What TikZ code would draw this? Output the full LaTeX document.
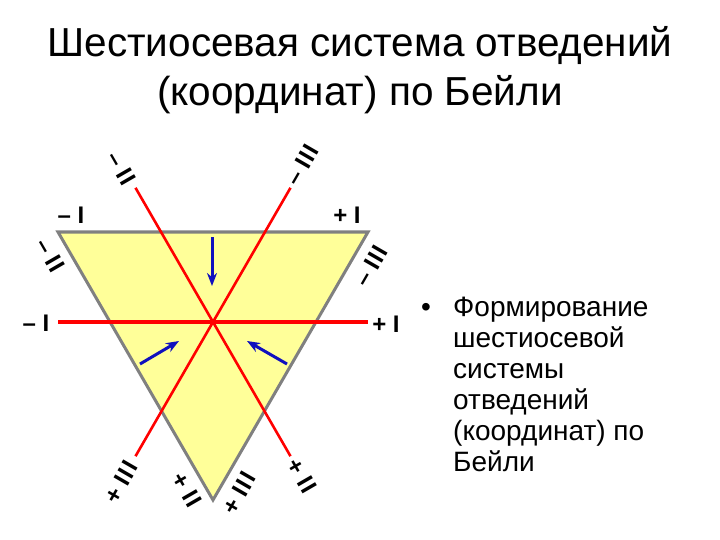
\documentclass[tikz,border=0pt]{standalone}
\usepackage{fontspec}
\setmainfont{Liberation Sans}
\usetikzlibrary{arrows.meta}
\definecolor{triyellow}{RGB}{255,255,153}
\definecolor{edgegray}{RGB}{128,128,128}
\definecolor{arrowblue}{RGB}{16,16,190}
\newcommand{\twobar}{I\kern1.5ptI}
\newcommand{\threebar}{I\kern1.5ptI\kern1.5ptI}
\begin{document}
\begin{tikzpicture}[x=1pt,y=-1pt,
  axisline/.style={draw=red, line width=2.6pt},
  mainaxis/.style={draw=red, line width=4pt},
  tri/.style={fill=triyellow, draw=edgegray, line width=3pt, line join=miter},
  vec/.style={draw=arrowblue, line width=3pt, -{Stealth[length=13pt,width=10pt]}},
  lbl/.style={font=\fontsize{24}{24}\selectfont\bfseries, inner sep=0pt},
  lblII/.style={lbl, rotate=-60},
  lblIII/.style={lbl, rotate=60},
  title/.style={font=\fontsize{40.5}{40.5}\selectfont, inner sep=0pt, anchor=base},
  body/.style={font=\fontsize{28}{28}\selectfont, inner sep=0pt, anchor=base west},
]
\useasboundingbox (0,0) rectangle (720,540);
% title
\node[title] (t1) at (360,57) {Шестиосевая система отведений};
\node[title] (t2) at (360,106) {(координат) по Бейли};
% triangle
\coordinate (TL) at (58,232);
\coordinate (TR) at (368,232);
\coordinate (B) at (213,500);
\filldraw[tri] (TL) -- (TR) -- (B) -- cycle;
% axes
\coordinate (O) at (213,322);
\coordinate (mI) at (58,322);
\coordinate (pI) at (368,322);
\coordinate (mII) at (135.5,187.8);
\coordinate (pII) at (290.5,456.2);
\coordinate (mIII) at (290.5,187.8);
\coordinate (pIII) at (135.5,456.2);
\draw[axisline] (mII) -- (O) -- (pII);
\draw[axisline] (mIII) -- (O) -- (pIII);
\draw[mainaxis] (mI) -- (O) -- (pI);
% blue vectors
\coordinate (a1s) at (212,237);
\coordinate (a1e) at (212,286);
\coordinate (a2s) at (140,364);
\coordinate (a2e) at (179,341);
\coordinate (a3s) at (287,364);
\coordinate (a3e) at (247,341);
\draw[vec] (a1s) -- (a1e);
\draw[vec] (a2s) -- (a2e);
\draw[vec] (a3s) -- (a3e);
% straight labels
\node[lbl] (lTL) at (71,215) {– I};
\node[lbl] (lTR) at (347,215) {+ I};
\node[lbl] (lL) at (36,323) {– I};
\node[lbl] (lR) at (386,324) {+ I};
% axis end labels
\node[lblII] (lmII) at (121,168) {– \twobar};
\node[lblIII] (lmIII) at (302,165) {– \threebar};
\node[lblII] (lpII) at (302,476) {+ \twobar};
\node[lblIII] (lpIII) at (121,482) {+ \threebar};
% triangle edge labels
\node[lblII] (emII) at (50,255) {– \twobar};
\node[lblII] (epII) at (187,490) {+ \twobar};
\node[lblIII] (emIII) at (371,266) {– \threebar};
\node[lblIII] (epIII) at (239,493) {+ \threebar};
% bullet text
\node[body] (bul) at (421,316) {•};
\node[body] (b1) at (453,316) {Формирование};
\node[body] (b2) at (453,347) {шестиосевой};
\node[body] (b3) at (453,378) {системы};
\node[body] (b4) at (453,409) {отведений};
\node[body] (b5) at (453,440) {(координат) по};
\node[body] (b6) at (453,471) {Бейли};
\end{tikzpicture}
\end{document}
